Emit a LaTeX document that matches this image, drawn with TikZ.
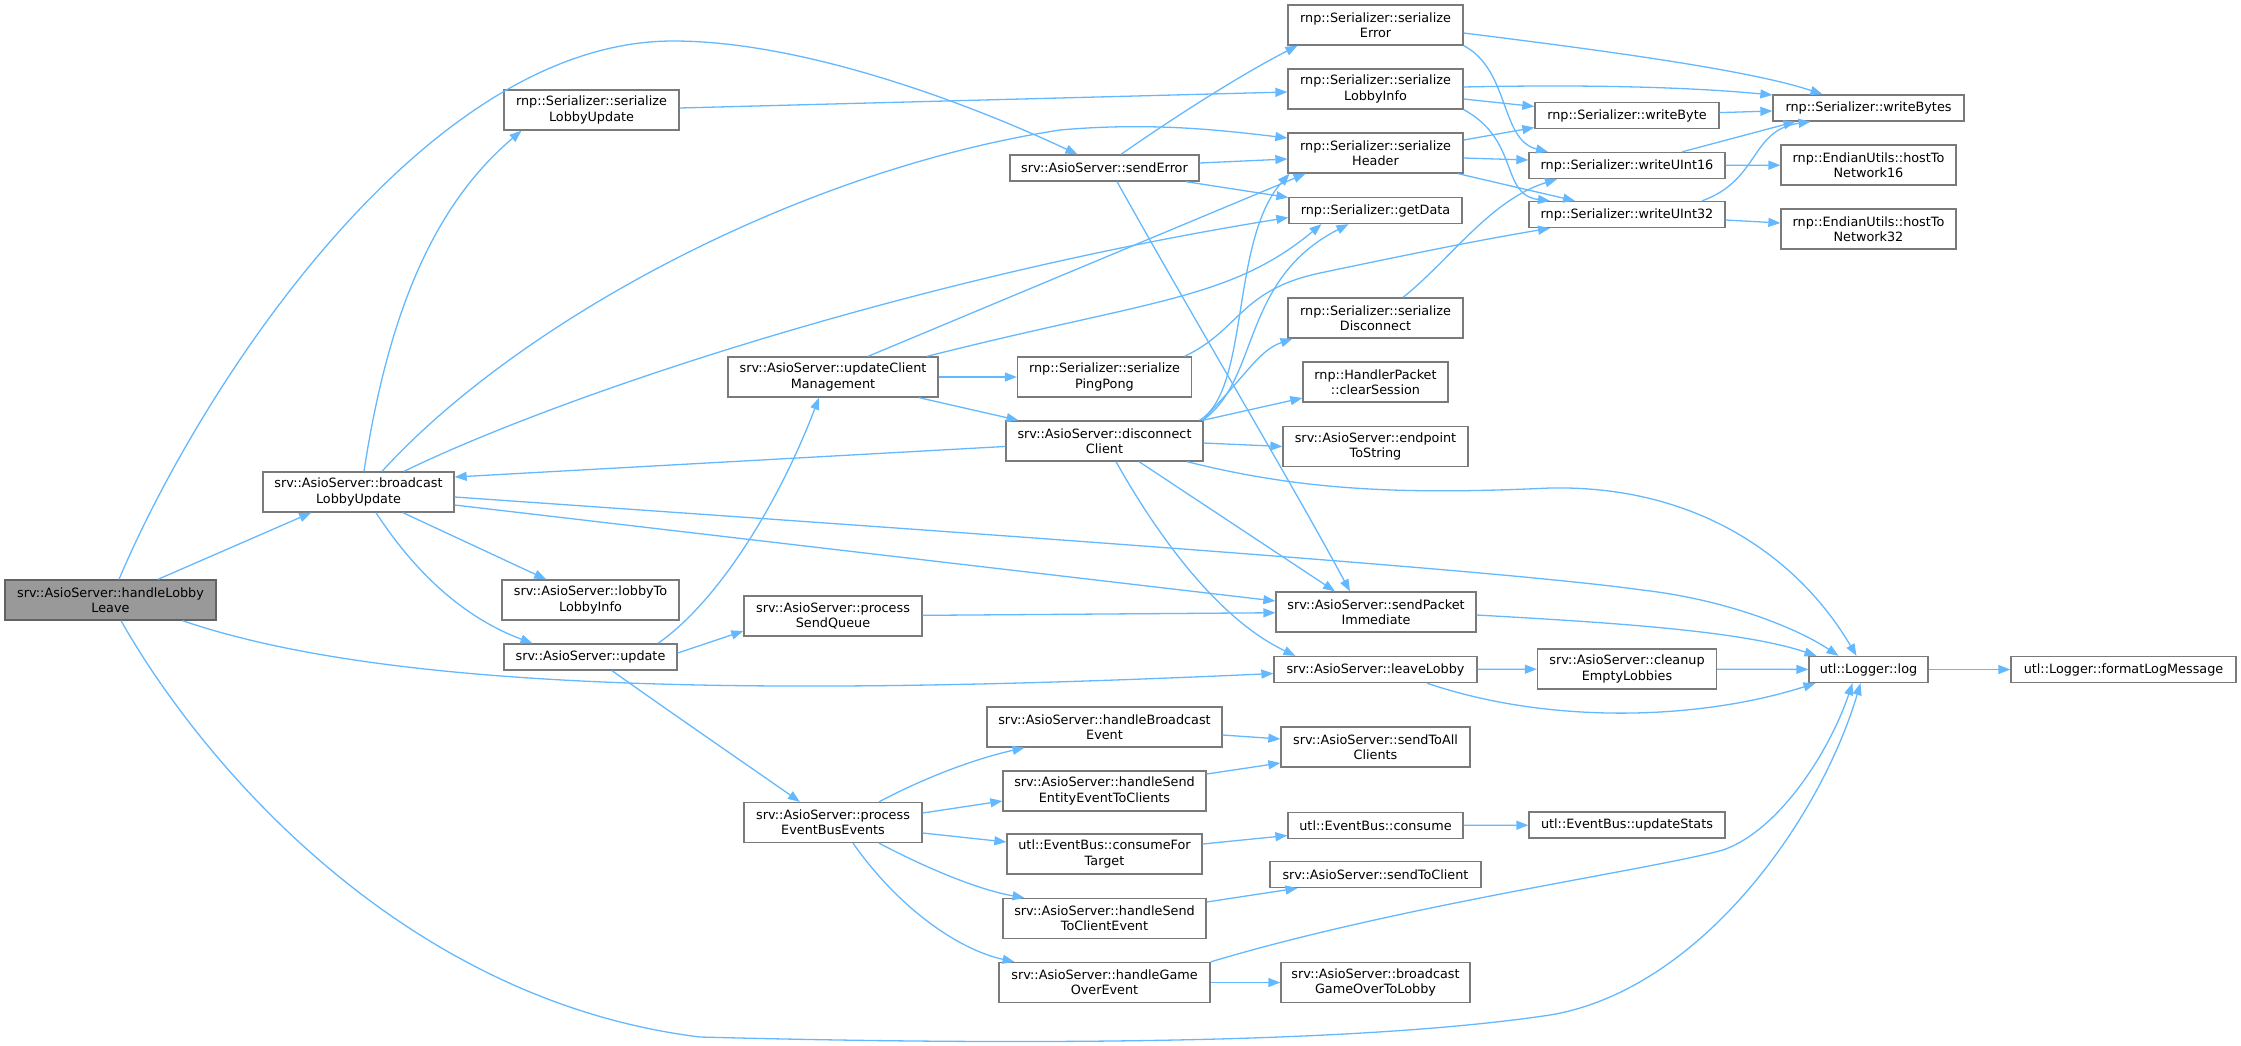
\documentclass[tikz,border=0pt]{standalone}
\usepackage{fontspec}
\setmainfont{DejaVu Sans}
\usetikzlibrary{arrows.meta}
\definecolor{edgeblue}{HTML}{63B8FF}
\definecolor{boxgray}{HTML}{7A7A7A}
\definecolor{startfill}{HTML}{999999}
\tikzset{
  nd/.style={draw=boxgray, line width=1.3pt, fill=white, inner sep=0pt, align=center,
    font=\fontsize{12.8}{15.3}\selectfont},
  startnd/.style={nd, fill=startfill, draw=boxgray!80!black},
  two/.style={minimum height=40pt},
  one/.style={minimum height=26pt},
  edg/.style={draw=edgeblue, line width=1.3pt, -{Triangle[length=12pt,width=9pt]}}
}
\begin{document}
\begin{tikzpicture}[x=1pt,y=-1pt]
\useasboundingbox (0,0) rectangle (2241,1045);
% column 0-2
\node[startnd,two,minimum width=211pt] (L) at (110.5,600) {srv::AsioServer::handleLobby\\Leave};
\node[nd,two,minimum width=191pt] (B) at (358.5,492) {srv::AsioServer::broadcast\\LobbyUpdate};
\node[nd,two,minimum width=177pt] (LTLI) at (590.5,600) {srv::AsioServer::lobbyTo\\LobbyInfo};
\node[nd,one,minimum width=173pt] (U) at (590.5,657) {srv::AsioServer::update};
\node[nd,two,minimum width=175pt] (SLU) at (591.5,110) {rnp::Serializer::serialize\\LobbyUpdate};
% column 3
\node[nd,two,minimum width=210pt] (UCM) at (833,377) {srv::AsioServer::updateClient\\Management};
\node[nd,two,minimum width=178pt] (PSQ) at (833,616) {srv::AsioServer::process\\SendQueue};
\node[nd,two,minimum width=178pt] (PEB) at (833,822.5) {srv::AsioServer::process\\EventBusEvents};
% column 4
\node[nd,one,minimum width=189pt] (SE) at (1104.5,168) {srv::AsioServer::sendError};
\node[nd,two,minimum width=174pt] (PP) at (1104.5,377) {rnp::Serializer::serialize\\PingPong};
\node[nd,two,minimum width=197pt] (DC) at (1104.5,441) {srv::AsioServer::disconnect\\Client};
\node[nd,two,minimum width=235pt] (HBE) at (1104.5,727) {srv::AsioServer::handleBroadcast\\Event};
\node[nd,two,minimum width=203pt] (HSE) at (1104.5,791) {srv::AsioServer::handleSend\\EntityEventToClients};
\node[nd,two,minimum width=195pt] (CFT) at (1104.5,854) {utl::EventBus::consumeFor\\Target};
\node[nd,two,minimum width=203pt] (HSC) at (1104.5,918.5) {srv::AsioServer::handleSend\\ToClientEvent};
\node[nd,two,minimum width=211pt] (HGO) at (1104.5,982.5) {srv::AsioServer::handleGame\\OverEvent};
% column 5
\node[nd,two,minimum width=175pt] (SER) at (1375.5,25) {rnp::Serializer::serialize\\Error};
\node[nd,two,minimum width=175pt] (SLI) at (1375.5,89) {rnp::Serializer::serialize\\LobbyInfo};
\node[nd,two,minimum width=175pt] (SH) at (1375.5,153) {rnp::Serializer::serialize\\Header};
\node[nd,one,minimum width=173pt] (GD) at (1375.5,210.5) {rnp::Serializer::getData};
\node[nd,two,minimum width=175pt] (SD) at (1375.5,318) {rnp::Serializer::serialize\\Disconnect};
\node[nd,two,minimum width=145pt] (CS) at (1375.5,382) {rnp::HandlerPacket\\::clearSession};
\node[nd,two,minimum width=185pt] (ETS) at (1375.5,446.5) {srv::AsioServer::endpoint\\ToString};
\node[nd,two,minimum width=200pt] (SPI) at (1376,612) {srv::AsioServer::sendPacket\\Immediate};
\node[nd,one,minimum width=203pt] (LL) at (1375.5,669.5) {srv::AsioServer::leaveLobby};
\node[nd,two,minimum width=189pt] (STA) at (1375.5,747) {srv::AsioServer::sendToAll\\Clients};
\node[nd,one,minimum width=175pt] (CON) at (1375.5,825.5) {utl::EventBus::consume};
\node[nd,one,minimum width=211pt] (STC) at (1375.5,874.5) {srv::AsioServer::sendToClient};
\node[nd,two,minimum width=189pt] (BGO) at (1375.5,982.5) {srv::AsioServer::broadcast\\GameOverToLobby};
% column 6
\node[nd,one,minimum width=184pt] (WB) at (1627,115.5) {rnp::Serializer::writeByte};
\node[nd,one,minimum width=196pt] (W16) at (1627,165.5) {rnp::Serializer::writeUInt16};
\node[nd,one,minimum width=196pt] (W32) at (1627,214.5) {rnp::Serializer::writeUInt32};
\node[nd,two,minimum width=179pt] (CEL) at (1627,669) {srv::AsioServer::cleanup\\EmptyLobbies};
\node[nd,one,minimum width=196pt] (UPS) at (1627,825) {utl::EventBus::updateStats};
% column 7-8
\node[nd,one,minimum width=191pt] (WBS) at (1868.5,108) {rnp::Serializer::writeBytes};
\node[nd,two,minimum width=175pt] (H16) at (1868.5,165) {rnp::EndianUtils::hostTo\\Network16};
\node[nd,two,minimum width=175pt] (H32) at (1868.5,229) {rnp::EndianUtils::hostTo\\Network32};
\node[nd,one,minimum width=119pt] (LOG) at (1868.5,669.5) {utl::Logger::log};
\node[nd,one,minimum width=225pt] (FLM) at (2123.5,669.5) {utl::Logger::formatLogMessage};

% edges from handleLobbyLeave
\draw[edg] (L) -- (B);
\draw[edg] ([xshift=8.5pt]L.north) .. controls (199,390) and (423,41) .. (673,41) .. controls (803,41) and (968,103) .. ([xshift=-27pt]SE.north);
\draw[edg] ([xshift=72pt]L.south) .. controls (400,695) and (800,695) .. ([yshift=-4pt]LL.west);
\draw[edg] ([xshift=10.5pt]L.south) .. controls (200,760) and (400,1000) .. (700,1037) .. controls (1000,1045) and (1350,1045) .. (1550,1015) .. controls (1700,990) and (1820,820) .. ([xshift=-8pt]LOG.south);
% broadcastLobbyUpdate
\draw[edg] ([xshift=5.5pt]B.north) .. controls (390,300) and (440,200) .. ([xshift=-70pt]SLU.south);
\draw[edg] ([xshift=23.5pt]B.north) .. controls (520,320) and (800,170) .. (1060,130) .. controls (1150,122) and (1220,130) .. ([yshift=15pt]SH.west);
\draw[edg] ([xshift=45.5pt]B.north) .. controls (550,400) and (900,280) .. ([yshift=-7pt]GD.west);
\draw[edg] (B) -- (LTLI);
\draw[edg] ([xshift=17.5pt]B.south) .. controls (420,580) and (470,620) .. ([xshift=-58pt]U.north);
\draw[edg] ([yshift=-13pt]B.east) -- ([yshift=11pt]SPI.west);
\draw[edg] ([yshift=-5pt]B.east) .. controls (1000,535) and (1500,570) .. (1642,590) .. controls (1730,600) and (1800,630) .. ([xshift=-30pt]LOG.north);
\draw[edg] (DC) -- ([yshift=15pt]B.east);
\draw[edg] ([yshift=2pt]SLU.east) -- ([yshift=-3pt]SLI.west);
% update
\draw[edg] ([xshift=67.5pt]U.north) .. controls (720,600) and (780,500) .. ([xshift=-14pt]UCM.south);
\draw[edg] ([yshift=4pt]U.east) -- ([yshift=-15pt]PSQ.west);
\draw[edg] ([xshift=21.5pt]U.south) .. controls (660,705) and (740,760) .. ([xshift=-33pt]PEB.north);
% sendError
\draw[edg] ([xshift=16.5pt]SE.north) .. controls (1170,120) and (1240,75) .. ([xshift=-78pt]SER.south);
\draw[edg] ([yshift=5pt]SE.east) -- ([yshift=-6pt]SH.west);
\draw[edg] ([xshift=81.5pt]SE.south) -- ([yshift=13pt]GD.west);
\draw[edg] ([xshift=12.5pt]SE.south) .. controls (1200,330) and (1290,480) .. ([xshift=-26pt]SPI.north);
% updateClientManagement
\draw[edg] ([xshift=35pt]UCM.north) -- ([xshift=-70pt]SH.south);
\draw[edg] ([xshift=94pt]UCM.north) .. controls (1150,300) and (1230,300) .. ([xshift=-54pt]GD.south);
\draw[edg] (UCM) -- (PP);
\draw[edg] ([xshift=86pt]UCM.south) -- ([xshift=-86pt]DC.north);
% pingpong
\draw[edg] ([xshift=80pt]PP.north) .. controls (1240,330) and (1240,290) .. (1320,273) .. controls (1420,252) and (1480,240) .. ([xshift=-77pt]W32.south);
% disconnectClient
\draw[edg] ([xshift=95pt]DC.north) .. controls (1250,390) and (1230,240) .. ([xshift=-86pt]SH.south);
\draw[edg] ([xshift=98pt]DC.north) .. controls (1260,380) and (1240,280) .. ([xshift=-27pt]GD.south);
\draw[edg] ([xshift=98pt]DC.north) .. controls (1250,370) and (1260,350) .. ([xshift=-83pt]SD.south);
\draw[edg] ([xshift=98pt]DC.north) -- ([yshift=-16pt]CS.west);
\draw[edg] ([yshift=-2pt]DC.east) -- (ETS.west);
\draw[edg] ([xshift=34.5pt]DC.south) -- ([xshift=-41pt]SPI.north);
\draw[edg] ([xshift=11.5pt]DC.south) .. controls (1160,540) and (1220,620) .. ([xshift=-80pt]LL.north);
\draw[edg] ([xshift=82.5pt]DC.south) .. controls (1300,490) and (1400,495) .. (1550,488) .. controls (1700,485) and (1800,560) .. ([xshift=-12pt]LOG.north);
% serializers
\draw[edg] ([yshift=-8pt]SER.east) .. controls (1600,50) and (1750,70) .. ([xshift=-46pt]WBS.north);
\draw[edg] (SER.south east) .. controls (1510,70) and (1500,140) .. ([xshift=-79pt]W16.north);
\draw[edg] ([yshift=2pt]SLI.east) .. controls (1600,84) and (1700,88) .. ([yshift=13pt]WBS.west);
\draw[edg] ([yshift=-10pt]SLI.east) -- ([yshift=9pt]WB.west);
\draw[edg] (SLI.south east) .. controls (1520,140) and (1500,195) .. ([xshift=-77pt]W32.north);
\draw[edg] ([yshift=13pt]SH.east) -- ([yshift=-12pt]WB.west);
\draw[edg] ([yshift=-5pt]SH.east) -- ([yshift=5.5pt]W16.west);
\draw[edg] ([xshift=82.5pt]SH.south) -- ([xshift=-52pt]W32.north);
\draw[edg] ([xshift=27.5pt]SD.north) .. controls (1450,260) and (1490,200) .. ([xshift=-70pt]W16.south);
\draw[edg] (WB) -- (WBS);
\draw[edg] ([xshift=55pt]W16.north) -- ([xshift=-73pt]WBS.south);
\draw[edg] (W16) -- (H16);
\draw[edg] ([xshift=75pt]W32.north) .. controls (1760,180) and (1750,130) .. ([xshift=-58pt]WBS.south);
\draw[edg] ([yshift=-5.5pt]W32.east) -- ([yshift=6pt]H32.west);
% send queue / logging
\draw[edg] (PSQ) -- (SPI);
\draw[edg] ([yshift=-3pt]SPI.east) .. controls (1600,622) and (1740,630) .. ([xshift=-52pt]LOG.north);
\draw[edg] (LL) -- (CEL);
\draw[edg] ([xshift=51.5pt]LL.south) .. controls (1550,725) and (1700,720) .. ([xshift=-53pt]LOG.south);
\draw[edg] (CEL) -- (LOG);
\draw[edg] (LOG) -- (FLM);
% event bus
\draw[edg] ([xshift=46pt]PEB.north) .. controls (920,780) and (970,760) .. ([xshift=-80pt]HBE.south);
\draw[edg] ([yshift=9.5pt]PEB.east) -- ([yshift=-10pt]HSE.west);
\draw[edg] ([yshift=-10.5pt]PEB.east) -- ([yshift=12pt]CFT.west);
\draw[edg] ([xshift=46pt]PEB.south) .. controls (930,870) and (980,890) .. ([xshift=-80pt]HSC.north);
\draw[edg] ([xshift=20pt]PEB.south) .. controls (900,910) and (960,950) .. ([xshift=-90pt]HGO.north);
\draw[edg] ([yshift=-8pt]HBE.east) -- ([yshift=8pt]STA.west);
\draw[edg] ([yshift=17pt]HSE.east) -- ([yshift=-16pt]STA.west);
\draw[edg] ([yshift=10pt]CFT.east) -- ([yshift=-10pt]CON.west);
\draw[edg] (CON) -- (UPS);
\draw[edg] ([yshift=16.5pt]HSC.east) -- ([xshift=-78pt]STC.south);
\draw[edg] (HGO) -- (BGO);
\draw[edg] (HGO.north east) .. controls (1400,905) and (1650,870) .. (1723,850) .. controls (1780,830) and (1830,750) .. ([xshift=-16pt]LOG.south);
\end{tikzpicture}
\end{document}
